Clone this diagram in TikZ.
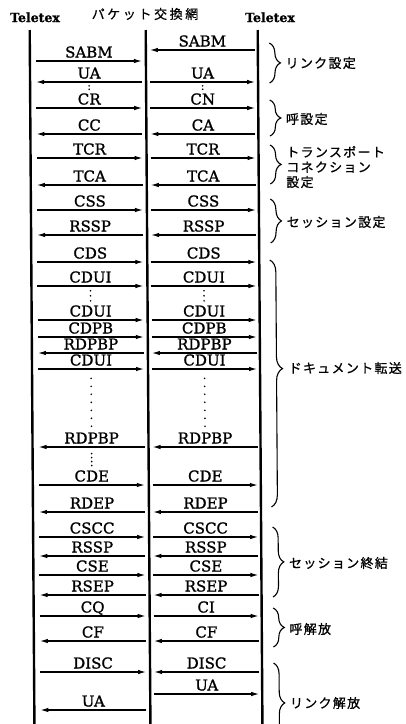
\documentclass[tikz,border=0pt]{standalone}
\usepackage{fontspec}
\newfontfamily\latf{DejaVu Serif}[FakeBold=1.2]
\newfontfamily\jpf{Noto Sans CJK JP}[LetterSpace=10,FakeBold=0.8]
\newfontfamily\jphf{Noto Sans CJK JP}[LetterSpace=20,FakeBold=0.5]
\usetikzlibrary{arrows.meta,decorations.pathreplacing}
\newcommand\rowat[2]{%
  \coordinate (a#1) at (35.5,#2);
  \coordinate (b#1) at (141.5,#2);
  \coordinate (c#1) at (149.5,#2);
  \coordinate (d#1) at (254.5,#2);}
\newcommand\msg[4]{\draw[msg] (#1) -- node[lbl] (#3) {#4} (#2);}
\begin{document}
\begin{tikzpicture}[x=1pt,y=-1pt,
  lifeline/.style={line width=2.4pt},
  msg/.style={line width=1.2pt,-{Latex[length=8pt,width=4.5pt]}},
  lbl/.style={midway,anchor=base,yshift=3.5pt,inner sep=0pt,font=\latf\fontsize{15}{15}\selectfont},
  jlbl/.style={anchor=west,inner sep=0pt,font=\jpf\fontsize{13}{15}\selectfont,align=left},
  hdr/.style={inner sep=0pt,anchor=base,font=\latf\bfseries\fontsize{12.5}{13}\selectfont},
  jhdr/.style={inner sep=0pt,font=\jphf\fontsize{13}{13}\selectfont},
  grp/.style={decorate,decoration={brace,amplitude=11pt},line width=1.1pt},
  dotline/.style={line width=1.8pt,line cap=round,dash pattern=on 0pt off #1},
]
\path[use as bounding box] (0,0) rectangle (406,724);
\clip (0,0) rectangle (406,724);
% headers
\node[hdr] (h1) at (35,22) {Teletex};
\node[jhdr] (h2) at (145,14) {パケット交換網};
\node[hdr] (h3) at (270,22) {Teletex};
\begin{scope}[xslant=-0.0068]
% lifelines
\coordinate (Lt) at (29.5,30); \coordinate (Lb) at (29.5,740);
\coordinate (Mt) at (145.5,30); \coordinate (Mb) at (145.5,740);
\coordinate (Rt) at (257.5,30); \coordinate (Rb) at (257.5,740);
\draw[lifeline] (Lt) -- (Lb);
\draw[lifeline] (Mt) -- (Mb);
\draw[lifeline] (Rt) -- (Rb);
% messages
\rowat{1}{61}\rowat{1r}{50}
\msg{a1}{b1}{l1}{SABM}\msg{d1r}{c1r}{r1}{SABM}
\rowat{2}{82}
\msg{b2}{a2}{l2}{UA}\msg{c2}{d2}{r2}{UA}
\rowat{3}{108}
\msg{a3}{b3}{l3}{CR}\msg{c3}{d3}{r3}{CN}
\rowat{4}{134}
\msg{b4}{a4}{l4}{CC}\msg{d4}{c4}{r4}{CA}
\rowat{5}{158}
\msg{a5}{b5}{l5}{TCR}\msg{c5}{d5}{r5}{TCR}
\rowat{6}{185}
\msg{b6}{a6}{l6}{TCA}\msg{d6}{c6}{r6}{TCA}
\rowat{7}{210}
\msg{a7}{b7}{l7}{CSS}\msg{c7}{d7}{r7}{CSS}
\rowat{8}{235}
\msg{b8}{a8}{l8}{RSSP}\msg{d8}{c8}{r8}{RSSP}
\rowat{9}{262}
\msg{a9}{b9}{l9}{CDS}\msg{c9}{d9}{r9}{CDS}
\rowat{10}{286}
\msg{a10}{b10}{l10}{CDUI}\msg{c10}{d10}{r10}{CDUI}
\rowat{11}{320}
\msg{a11}{b11}{l11}{CDUI}\msg{c11}{d11}{r11}{CDUI}
\rowat{12}{337}
\msg{a12}{b12}{l12}{CDPB}\msg{c12}{d12}{r12}{CDPB}
\rowat{13}{353}
\msg{b13}{a13}{l13}{RDPBP}\msg{d13}{c13}{r13}{RDPBP}
\rowat{14}{369}
\msg{a14}{b14}{l14}{CDUI}\msg{c14}{d14}{r14}{CDUI}
\rowat{15}{447}
\msg{b15}{a15}{l15}{RDPBP}\msg{d15}{c15}{r15}{RDPBP}
\rowat{16}{485}
\msg{a16}{b16}{l16}{CDE}\msg{c16}{d16}{r16}{CDE}
\rowat{17}{512}
\msg{b17}{a17}{l17}{RDEP}\msg{d17}{c17}{r17}{RDEP}
\rowat{18}{537}
\msg{a18}{b18}{l18}{CSCC}\msg{c18}{d18}{r18}{CSCC}
\rowat{19}{556}
\msg{b19}{a19}{l19}{RSSP}\msg{d19}{c19}{r19}{RSSP}
\rowat{20}{575}
\msg{a20}{b20}{l20}{CSE}\msg{c20}{d20}{r20}{CSE}
\rowat{21}{595}
\msg{b21}{a21}{l21}{RSEP}\msg{d21}{c21}{r21}{RSEP}
\rowat{22}{616}
\msg{a22}{b22}{l22}{CQ}\msg{c22}{d22}{r22}{CI}
\rowat{23}{641}
\msg{b23}{a23}{l23}{CF}\msg{d23}{c23}{r23}{CF}
\rowat{24}{672}
\msg{a24}{b24}{l24}{DISC}\msg{d24}{c24}{r24}{DISC}
\rowat{25}{710}\rowat{25r}{694}
\msg{b25}{a25}{l25}{UA}\msg{c25r}{d25r}{r25}{UA}
% dotted continuations
\draw[dotline=3.5pt] ([yshift=-6.5pt]l2.south) -- ([yshift=0.5pt]l3.north);
\draw[dotline=3.5pt] ([yshift=-6.5pt]r2.south) -- ([yshift=0.5pt]r3.north);
\draw[dotline=5pt] ([yshift=-7.5pt]l10.south) -- (l11.north);
\draw[dotline=5pt] ([yshift=-7.5pt]r10.south) -- (r11.north);
\draw[dotline=8pt] ([yshift=-12pt]l14.south) -- ([yshift=4pt]l15.north);
\draw[dotline=8pt] ([yshift=-12pt]r14.south) -- ([yshift=4pt]r15.north);
\draw[dotline=4pt] ([yshift=-9.5pt]l15.south) -- ([yshift=4pt]l16.north);
% braces and group labels
\draw[grp] (269,43) -- (269,83);
\node[jlbl] (g1) at (285,63) {リンク設定};
\draw[grp] (269,100) -- (269,136);
\node[jlbl] (g2) at (285,119) {呼設定};
\draw[grp] (269,145) -- (269,184);
\node[jlbl] (g3) at (285,167) {トランスポート\\コネクション\\設定};
\draw[grp] (269,199) -- (269,243);
\node[jlbl] (g4) at (285,222) {セッション設定};
\draw[grp,decoration={brace,amplitude=12pt,aspect=0.44}] (268,260) -- (268,507);
\node[jlbl] (g5) at (286,368) {ドキュメント転送};
\draw[grp] (269,527) -- (269,597);
\node[jlbl] (g6) at (285,563) {セッション終結};
\draw[grp] (269,608) -- (269,647);
\node[jlbl] (g7) at (285,629) {呼解放};
\draw[grp] (269,663) -- (269,743);
\node[jlbl] (g8) at (285,703) {リンク解放};
\end{scope}
\end{tikzpicture}
\end{document}
